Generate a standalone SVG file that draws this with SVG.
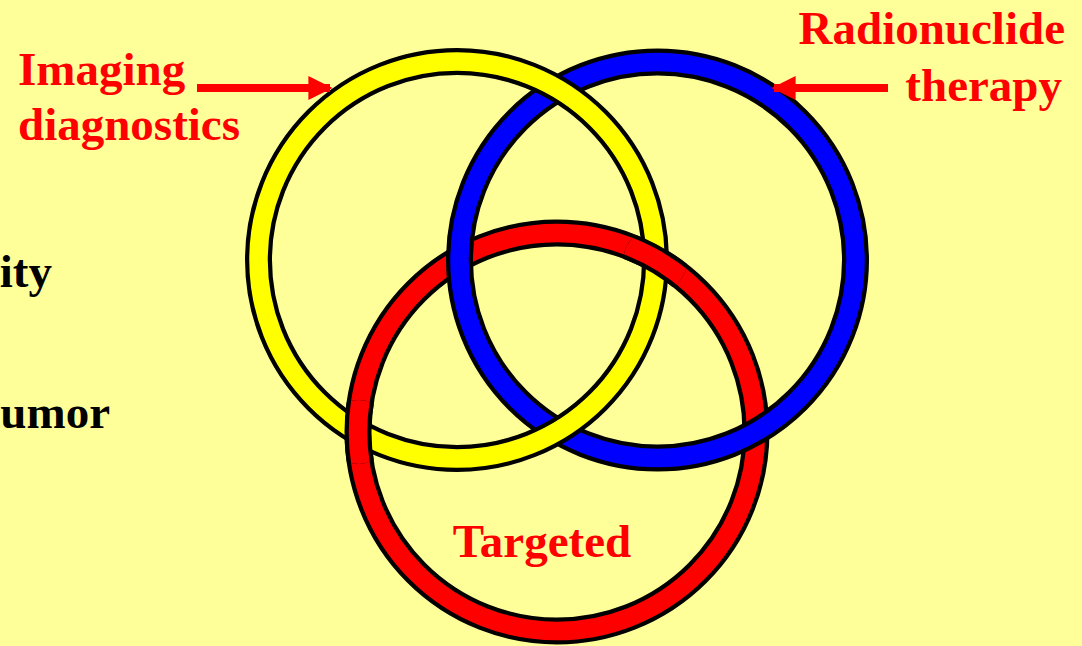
<svg xmlns="http://www.w3.org/2000/svg" width="1082" height="646" viewBox="0 0 1082 646">
<style>
.o{fill:none;stroke:#000;stroke-width:27}
.b{fill:none;stroke-width:18.5}
.lbl{font-family:"Liberation Serif","Times New Roman",serif;font-weight:bold;font-size:47px}
.red{fill:#FF0000}
.blk{fill:#000}
.arr{stroke:#FF0000;stroke-width:8;fill:none}
</style>
<defs>
<marker id="ah" viewBox="0 0 10 10" refX="9" refY="5" markerUnits="userSpaceOnUse" markerWidth="24" markerHeight="26" orient="auto">
<path d="M0,0 L10,5 L0,10 Z" fill="#FF0000"/>
</marker>
<clipPath id="c1"><circle cx="358.5" cy="432" r="32"/></clipPath>
<clipPath id="c2"><circle cx="655.5" cy="260" r="32"/></clipPath>
<g id="redRingShape">
<circle cx="557" cy="432" r="199" class="o"/>
<circle cx="557" cy="432" r="199" class="b" stroke="#FF0000"/>
</g>
</defs>
<rect width="1082" height="646" fill="#FFFF99"/>
<g id="ring-red"><use href="#redRingShape"/></g>
<g id="ring-blue">
<circle cx="657.5" cy="260" r="198" class="o"/>
<circle cx="657.5" cy="260" r="198" class="b" stroke="#0000FF"/>
</g>
<g id="ring-yellow">
<circle cx="457" cy="260" r="198.5" class="o"/>
<circle cx="457" cy="260" r="198.5" class="b" stroke="#FFFF00"/>
</g>
<g id="ring-red-over">
<use href="#redRingShape" clip-path="url(#c1)"/>
<use href="#redRingShape" clip-path="url(#c2)"/>
</g>
<g id="connectors">
<line x1="197" y1="88" x2="330" y2="88" class="arr" marker-end="url(#ah)"/>
<line x1="888" y1="88" x2="774" y2="88" class="arr" marker-end="url(#ah)"/>
</g>
<g id="label-imaging">
<text class="lbl red" x="18" y="85">Imaging</text>
<text class="lbl red" x="18" y="140">diagnostics</text>
</g>
<g id="label-radionuclide">
<text class="lbl red" x="1065" y="44" text-anchor="end">Radionuclide</text>
<text class="lbl red" x="1062" y="101" text-anchor="end">therapy</text>
</g>
<g id="label-targeted">
<text class="lbl red" x="542" y="557" text-anchor="middle">Targeted</text>
</g>
<g id="label-left">
<text class="lbl blk" x="52" y="287" text-anchor="end">ity</text>
<text class="lbl blk" x="110" y="428" text-anchor="end">umor</text>
</g>
</svg>
